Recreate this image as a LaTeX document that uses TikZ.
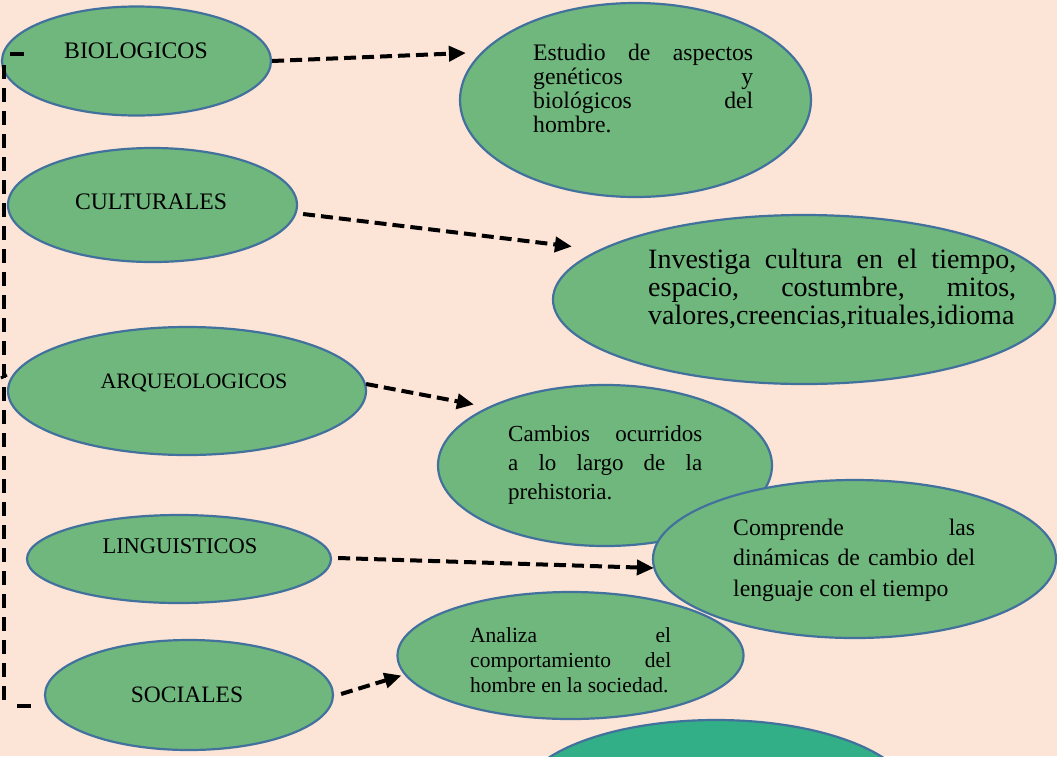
\documentclass[tikz,border=0pt]{standalone}
\usepackage{fontspec}
\setmainfont{Liberation Serif}
\usetikzlibrary{shapes.geometric,arrows.meta}
\definecolor{bg}{HTML}{FCE4D6}
\definecolor{gfill}{HTML}{70B77D}
\definecolor{gline}{HTML}{41719C}
\definecolor{tealfill}{HTML}{33AF87}
\newcommand\jline[2]{\hbox to #1{\spaceskip=\fontdimen2\font plus 1fil\relax #2}}
\begin{document}
\begin{tikzpicture}[x=1pt,y=1pt,
  oval/.style={ellipse, draw=gline, line width=2.2pt, fill=gfill, inner sep=0pt},
  lab/.style={inner sep=0pt, anchor=base},
  para/.style={inner sep=0pt, anchor=north west, align=left},
  darrow/.style={line width=4pt, dash pattern=on 12pt off 6pt, -{Triangle[length=17pt,width=15pt]}},
  dline/.style={line width=4pt, dash pattern=on 14pt off 9pt}]
\fill[bg] (0,0) rectangle (1057,-756);
\useasboundingbox (0,0) rectangle (1057,-756);

% ellipses
\node[oval, minimum width=269pt, minimum height=109pt] (bio) at (136.5,-61) {};
\node[oval, minimum width=351pt, minimum height=194pt] (est) at (635.5,-100) {};
\node[oval, minimum width=289pt, minimum height=114pt] (cul) at (152.5,-205) {};
\node[oval, minimum width=502pt, minimum height=169pt] (inv) at (804,-299.5) {};
\node[oval, minimum width=358pt, minimum height=128pt] (arq) at (187,-391) {};
\node[oval, minimum width=334pt, minimum height=161pt] (cam) at (605,-465.5) {};
\node[oval, minimum width=304pt, minimum height=88pt] (lin) at (179,-559) {};
\node[oval, minimum width=403pt, minimum height=158pt] (com) at (854.5,-559) {};
\node[oval, minimum width=288pt, minimum height=110pt] (soc) at (189,-695) {};
\node[oval, minimum width=346pt, minimum height=127pt] (ana) at (570.5,-655.5) {};
\node[oval, fill=tealfill, minimum width=394pt, minimum height=160pt] (bot) at (716,-800) {};

% labels
\node[lab, font=\fontsize{23.7}{27}\selectfont] (tbio) at (136,-58) {BIOLOGICOS};
\node[lab, font=\fontsize{23.7}{27}\selectfont] (tcul) at (151,-209) {CULTURALES};
\node[lab, font=\fontsize{22}{26}\selectfont] (tarq) at (194,-388) {ARQUEOLOGICOS};
\node[lab, font=\fontsize{22.5}{27}\selectfont] (tlin) at (180,-553) {LINGUISTICOS};
\node[lab, font=\fontsize{23.5}{27}\selectfont] (tsoc) at (187,-702) {SOCIALES};

% paragraphs
\node[para, font=\fontsize{23.7}{24}\selectfont] (test) at (533,-43.5)
  {\jline{220pt}{Estudio de aspectos}\\\jline{220pt}{genéticos y}\\\jline{220pt}{biológicos del}\\hombre.};
\node[para, font=\fontsize{28}{28}\selectfont] (tinv) at (648,-249)
  {\jline{368pt}{Investiga cultura en el tiempo,}\\\jline{368pt}{espacio, costumbre, mitos,}\\valores,creencias,rituales,idioma};
\node[para, font=\fontsize{23}{29}\selectfont] (tcam) at (508,-425.5)
  {\jline{194pt}{Cambios ocurridos}\\\jline{194pt}{a lo largo de la}\\prehistoria.};
\node[para, font=\fontsize{23.7}{30.5}\selectfont] (tcom) at (733,-518.5)
  {\jline{242pt}{Comprende las}\\\jline{242pt}{dinámicas de cambio del}\\lenguaje con el tiempo};
\node[para, font=\fontsize{21.5}{25}\selectfont] (tana) at (470,-627)
  {\jline{201pt}{Analiza el}\\\jline{201pt}{comportamiento del}\\hombre en la sociedad.};

% connectors
\draw[darrow] (bio.east) -- ([shift={(7,47)}]est.west);
\draw[darrow] ([shift={(5,-9)}]cul.east) -- ([shift={(20,53)}]inv.west);
\draw[darrow] ([shift={(-1,7)}]arq.east) -- ([shift={(37,61)}]cam.west);
\draw[darrow] ([shift={(6,1)}]lin.east) -- ([shift={(2,-9)}]com.west);
\draw[darrow] ([shift={(7,1)}]soc.east) -- ([shift={(5,-20)}]ana.west);
\draw[dline] ([shift={(23,7)}]bio.west) -- ([shift={(8,7)}]bio.west)
  ([shift={(3,-4)}]bio.west) -- ([shift={(-40,-8)}]soc.west)
  ([shift={(-27,-11)}]soc.west) -- ([shift={(-12,-11)}]soc.west);
\draw[line width=3pt] ([shift={(-6,13)}]arq.west) -- ([shift={(0,16)}]arq.west);
\end{tikzpicture}
\end{document}
